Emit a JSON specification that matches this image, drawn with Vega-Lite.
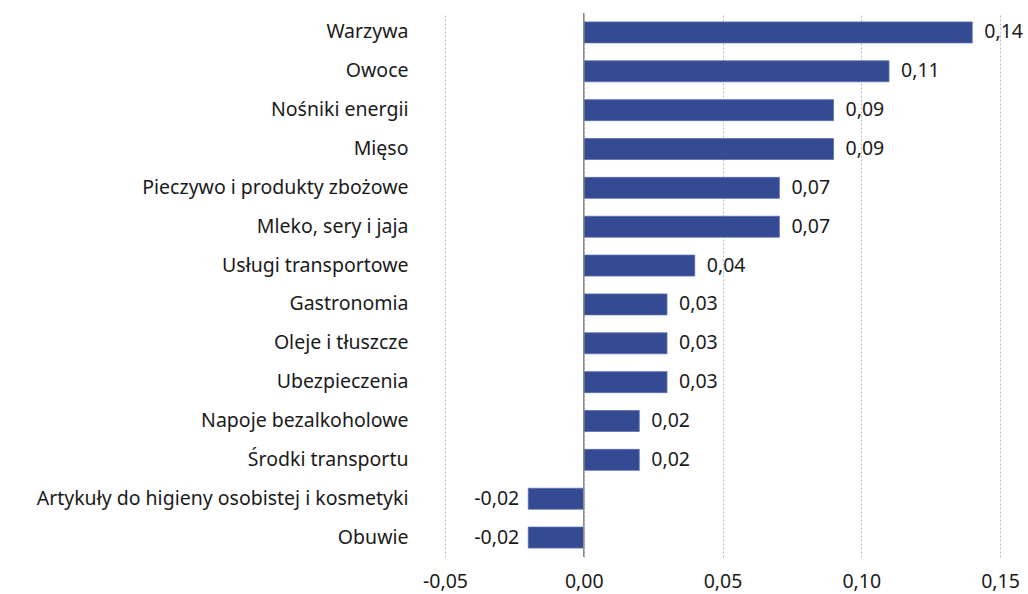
{
  "$schema": "https://vega.github.io/schema/vega-lite/v6.json",
  "width": 555,
  "height": 544,
  "autosize": {"type": "none"},
  "padding": {"left": 445, "top": 13, "right": 28, "bottom": 37},
  "background": "white",
  "config": {
    "view": {"stroke": null},
    "font": "Noto Sans",
    "locale": {"number": {"decimal": ",", "thousands": " ", "grouping": [3], "currency": ["", " zł"], "minus": "-"}}
  },
  "data": {
    "values": [
      {"kategoria": "Warzywa", "wartosc": 0.140},
      {"kategoria": "Owoce", "wartosc": 0.110},
      {"kategoria": "Nośniki energii", "wartosc": 0.090},
      {"kategoria": "Mięso", "wartosc": 0.090},
      {"kategoria": "Pieczywo i produkty zbożowe", "wartosc": 0.0705},
      {"kategoria": "Mleko, sery i jaja", "wartosc": 0.0705},
      {"kategoria": "Usługi transportowe ", "wartosc": 0.040},
      {"kategoria": "Gastronomia", "wartosc": 0.030},
      {"kategoria": "Oleje i tłuszcze", "wartosc": 0.030},
      {"kategoria": "Ubezpieczenia", "wartosc": 0.030},
      {"kategoria": "Napoje bezalkoholowe", "wartosc": 0.020},
      {"kategoria": "Środki transportu", "wartosc": 0.020},
      {"kategoria": "Artykuły do higieny osobistej i kosmetyki", "wartosc": -0.020},
      {"kategoria": "Obuwie", "wartosc": -0.020}
    ]
  },
  "layer": [
    {
      "mark": {"type": "bar", "color": "#344A93", "stroke": "#5A6FB0", "strokeWidth": 0.8},
      "encoding": {
        "y": {
          "field": "kategoria",
          "type": "nominal",
          "sort": null,
          "scale": {"paddingInner": 0.46, "paddingOuter": 0.23},
          "axis": {
            "title": null,
            "domain": false,
            "ticks": false,
            "labelPadding": 37,
            "labelFontSize": 19.5,
            "labelColor": "#1a1a1a",
            "labelLimit": 600
          }
        },
        "x": {
          "field": "wartosc",
          "type": "quantitative",
          "scale": {"domain": [-0.05, 0.15], "nice": false},
          "axis": {
            "title": null,
            "values": [-0.05, 0, 0.05, 0.1, 0.15],
            "format": ".2f",
            "domain": false,
            "ticks": false,
            "labelPadding": 15,
            "labelFontSize": 19.5,
            "labelColor": "#1a1a1a",
            "gridColor": "#b8b8b8",
            "gridDash": [2, 2],
            "gridWidth": 1,
            "labelFlush": false
          }
        }
      }
    },
    {
      "data": {"values": [{"zero": 0}]},
      "mark": {"type": "rule", "color": "#8c8c8c", "strokeWidth": 1.5},
      "encoding": {"x": {"field": "zero", "type": "quantitative"}}
    },
    {
      "transform": [{"filter": "datum.wartosc >= 0"}],
      "mark": {"type": "text", "align": "left", "baseline": "middle", "dx": 12, "fontSize": 19.5, "color": "#1a1a1a"},
      "encoding": {
        "y": {"field": "kategoria", "type": "nominal", "sort": null},
        "x": {"field": "wartosc", "type": "quantitative"},
        "text": {"field": "wartosc", "type": "quantitative", "format": ".2f"}
      }
    },
    {
      "transform": [{"filter": "datum.wartosc < 0"}],
      "mark": {"type": "text", "align": "right", "baseline": "middle", "dx": -9, "fontSize": 19.5, "color": "#1a1a1a"},
      "encoding": {
        "y": {"field": "kategoria", "type": "nominal", "sort": null},
        "x": {"field": "wartosc", "type": "quantitative"},
        "text": {"field": "wartosc", "type": "quantitative", "format": ".2f"}
      }
    }
  ]
}
